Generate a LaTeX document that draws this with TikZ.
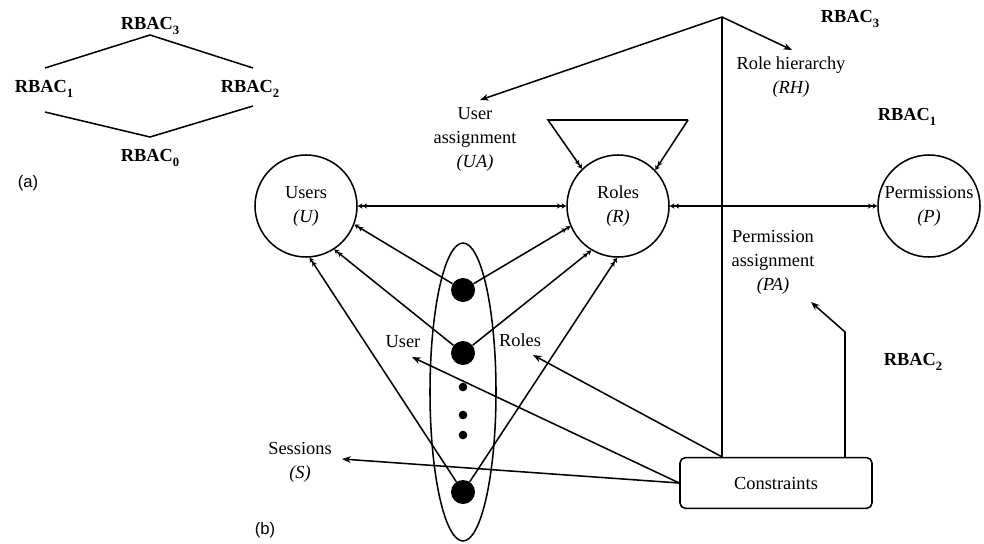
\documentclass[tikz,border=0pt]{standalone}
\usepackage{fontspec}
\setmainfont{Liberation Serif}
\newfontfamily\labelfont{Liberation Sans}
\usetikzlibrary{arrows.meta}
\newcommand{\lowsub}[1]{\raisebox{-0.55ex}{\fontsize{9.5pt}{10pt}\selectfont #1}}
\tikzset{
  base/.style={line width=1.15pt},
  txt/.style={font=\fontsize{13.8pt}{18pt}\selectfont, align=center, inner sep=0pt},
  rbac/.style={font=\fontsize{13.8pt}{16pt}\selectfont\bfseries, inner sep=0pt},
  tag/.style={font=\labelfont\fontsize{12.5pt}{14pt}\selectfont, inner sep=0pt},
  entity/.style={circle, draw, line width=1.15pt, minimum size=76.5pt, inner sep=0pt, txt},
  bigdot/.style={circle, fill=black, minimum size=18pt, inner sep=0pt},
  smalldot/.style={circle, fill=black, minimum size=6.5pt, inner sep=0pt},
  arr/.style={base, -{Stealth[length=6.5pt,width=5pt]}},
  darr/.style={base, -{Stealth[length=3.5pt,width=4pt]Stealth[length=3.5pt,width=4pt]}},
  ddarr/.style={base, {Stealth[length=3.5pt,width=4pt]Stealth[length=3.5pt,width=4pt]}-{Stealth[length=3.5pt,width=4pt]Stealth[length=3.5pt,width=4pt]}},
  box/.style={draw, line width=1.15pt, rounded corners=4pt, minimum width=144pt, minimum height=38pt, txt},
}
\begin{document}
\begin{tikzpicture}[x=0.75pt,y=-0.75pt]
\useasboundingbox (0,0) rectangle (984,543);

% ---------- (a) lattice of models ----------
\node[rbac] (r3) at (150,26) {RBAC\lowsub{3}};
\node[rbac] (r1) at (44,89) {RBAC\lowsub{1}};
\node[rbac] (r2) at (250,89) {RBAC\lowsub{2}};
\node[rbac] (r0) at (150,158) {RBAC\lowsub{0}};
\coordinate (lt) at (45,68);
\coordinate (top) at (150,35);
\coordinate (rt) at (253,68);
\coordinate (lb) at (45,112);
\coordinate (bot) at (150,137);
\coordinate (rb) at (253,106);
\draw[base] (lt) -- (top) -- (rt);
\draw[base] (lb) -- (bot) -- (rb);
\node[tag] (la) at (28,183) {(a)};

% ---------- (b) model components ----------
\node[entity] (users) at (306,206) {Users\\\textit{(U)}};
\node[entity] (roles) at (618,206) {Roles\\\textit{(R)}};
\node[entity] (perms) at (929,206) {Permissions\\\textit{(P)}};
\node[box] (cons) at (776,483) {Constraints};

% sessions
\draw[base] (463,392) ellipse [x radius=33, y radius=149];
\node[bigdot] (d1) at (463,290) {};
\node[bigdot] (d2) at (463,353) {};
\node[smalldot] (s1) at (463,387) {};
\node[smalldot] (s2) at (463,415) {};
\node[smalldot] (s3) at (463,435) {};
\node[bigdot] (d3) at (463,492) {};

% labels
\node[txt] (ua) at (475,139) {User\\assignment\\\textit{(UA)}};
\node[txt] (rh) at (791,77) {Role hierarchy\\\textit{(RH)}};
\node[txt] (pa) at (773,262) {Permission\\assignment\\\textit{(PA)}};
\node[txt] (sess) at (300,462) {Sessions\\\textit{(S)}};
\node[txt] (ulab) at (403,342) {User};
\node[txt] (rlab) at (520,340) {Roles};
\node[rbac] (br3) at (850,19) {RBAC\lowsub{3}};
\node[rbac] (br1) at (907,117) {RBAC\lowsub{1}};
\node[rbac] (br2) at (913,362) {RBAC\lowsub{2}};
\node[tag] (lb) at (265,530) {(b)};

% assignment relations
\draw[ddarr] (users) -- (roles);
\draw[ddarr] (roles) -- (perms);

% role hierarchy loop
\coordinate (tl) at (548,120);
\coordinate (tr) at (688,120);
\draw[darr] (tr) -- (tl) -- (roles.134);
\draw[darr] (tr) -- (roles.44);

% session mappings
\draw[darr] (d1) -- (users.-21);
\draw[darr] (d2) -- (users.-57);
\draw[darr] (d3) -- (users.-86);
\draw[darr] (d1) -- (roles.-157);
\draw[darr] (d2) -- (roles.-121);
\draw[darr] (d3) -- (roles.-91);

% RBAC3 fan-out
\coordinate (apex) at (722,17);
\coordinate (uatip) at (480,100);
\coordinate (rhtip) at (792,50);
\draw[arr] (apex) -- (uatip);
\draw[arr] (apex) -- (rhtip);
\draw[base] (apex) -- (apex |- cons.north);

% constraints
\coordinate (stip) at (342,459);
\coordinate (utip) at (412,357);
\coordinate (rtip) at (533,355);
\coordinate (patip) at (811,302);
\coordinate (pabend) at (845,332);
\draw[arr] (cons.west) -- (stip);
\draw[arr] (cons.west) -- (utip);
\draw[arr] (apex |- cons.north) -- (rtip);
\draw[arr] (pabend |- cons.north) -- (pabend) -- (patip);
\end{tikzpicture}
\end{document}
